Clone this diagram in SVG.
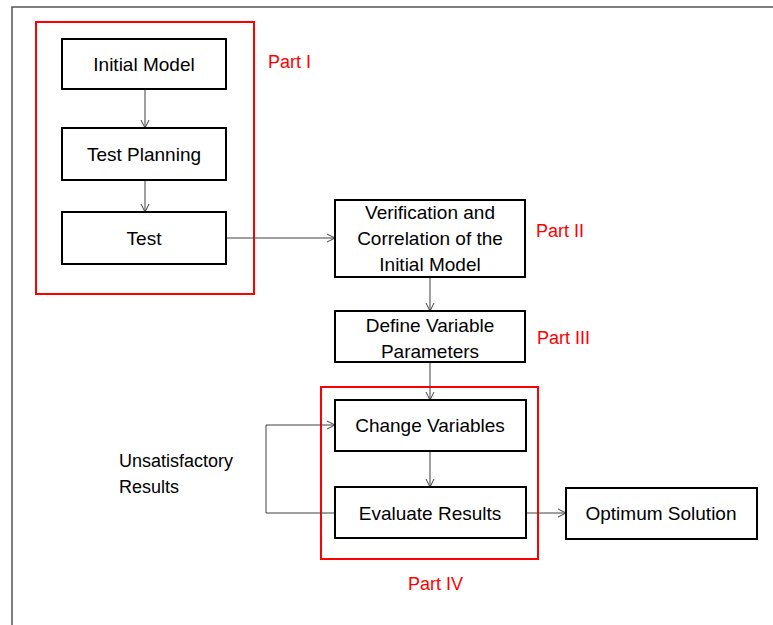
<svg xmlns="http://www.w3.org/2000/svg" width="773" height="625" viewBox="0 0 773 625">
  <defs>
    <marker id="arrow" markerWidth="10" markerHeight="10" refX="9" refY="5" orient="auto" markerUnits="userSpaceOnUse">
      <path d="M1,1 L9,5 L1,9" fill="none" stroke="#404040" stroke-width="1"/>
    </marker>
    <style>
      .box { fill: #ffffff; stroke: #000000; stroke-width: 2; }
      .part { fill: none; stroke: #ff0000; stroke-width: 2; }
      .lbl { font-family: "Liberation Sans", Arial, sans-serif; font-size: 19px; fill: #000000; text-anchor: middle; }
      .plbl { font-family: "Liberation Sans", Arial, sans-serif; font-size: 18px; fill: #ff0000; }
      .note { font-family: "Liberation Sans", Arial, sans-serif; font-size: 18px; fill: #000000; }
      .conn { fill: none; stroke: #404040; stroke-width: 1; }
    </style>
  </defs>
  <rect width="773" height="625" fill="#ffffff"/>
  <!-- frame -->
  <path d="M12,625 L12,7 L773,7" fill="none" stroke="#555555" stroke-width="1.5"/>

  <!-- part groupings -->
  <g id="part-1">
    <rect class="part" x="36" y="22" width="218" height="272"/>
    <text class="plbl" x="268" y="68">Part I</text>
  </g>
  <g id="part-2-label"><text class="plbl" x="536" y="237">Part II</text></g>
  <g id="part-3-label"><text class="plbl" x="537" y="344">Part III</text></g>
  <g id="part-4">
    <rect class="part" x="321" y="387" width="217" height="172"/>
    <text class="plbl" x="408" y="590">Part IV</text>
  </g>

  <!-- connectors -->
  <g id="connectors">
    <line class="conn" x1="145" y1="89" x2="145" y2="128" marker-end="url(#arrow)"/>
    <line class="conn" x1="145" y1="180" x2="145" y2="212" marker-end="url(#arrow)"/>
    <line class="conn" x1="226" y1="238" x2="335" y2="238" marker-end="url(#arrow)"/>
    <line class="conn" x1="430" y1="277" x2="430" y2="311" marker-end="url(#arrow)"/>
    <line class="conn" x1="430" y1="362" x2="430" y2="400" marker-end="url(#arrow)"/>
    <line class="conn" x1="430" y1="451" x2="430" y2="487" marker-end="url(#arrow)"/>
    <line class="conn" x1="526" y1="513" x2="566" y2="513" marker-end="url(#arrow)"/>
    <polyline class="conn" points="335,513 266,513 266,425 335,425" marker-end="url(#arrow)"/>
  </g>

  <!-- nodes -->
  <g id="initial-model">
    <rect class="box" x="62" y="39" width="164" height="50"/>
    <text class="lbl" x="144" y="71">Initial Model</text>
  </g>
  <g id="test-planning">
    <rect class="box" x="62" y="128" width="164" height="52"/>
    <text class="lbl" x="144" y="161">Test Planning</text>
  </g>
  <g id="test">
    <rect class="box" x="62" y="212" width="164" height="52"/>
    <text class="lbl" x="144" y="245">Test</text>
  </g>
  <g id="verification">
    <rect class="box" x="335" y="200" width="190" height="77"/>
    <text class="lbl" x="430" y="219">Verification and</text>
    <text class="lbl" x="430" y="245">Correlation of the</text>
    <text class="lbl" x="430" y="271">Initial Model</text>
  </g>
  <g id="define-variables">
    <rect class="box" x="335" y="311" width="190" height="51"/>
    <text class="lbl" x="430" y="332">Define Variable</text>
    <text class="lbl" x="430" y="358">Parameters</text>
  </g>
  <g id="change-variables">
    <rect class="box" x="335" y="400" width="191" height="51"/>
    <text class="lbl" x="430" y="432">Change Variables</text>
  </g>
  <g id="evaluate-results">
    <rect class="box" x="335" y="487" width="191" height="51"/>
    <text class="lbl" x="430" y="520">Evaluate Results</text>
  </g>
  <g id="optimum-solution">
    <rect class="box" x="566" y="488" width="191" height="51"/>
    <text class="lbl" x="661" y="520">Optimum Solution</text>
  </g>
  <g id="unsatisfactory-label">
    <text class="note" x="119" y="467">Unsatisfactory</text>
    <text class="note" x="119" y="493">Results</text>
  </g>
</svg>
